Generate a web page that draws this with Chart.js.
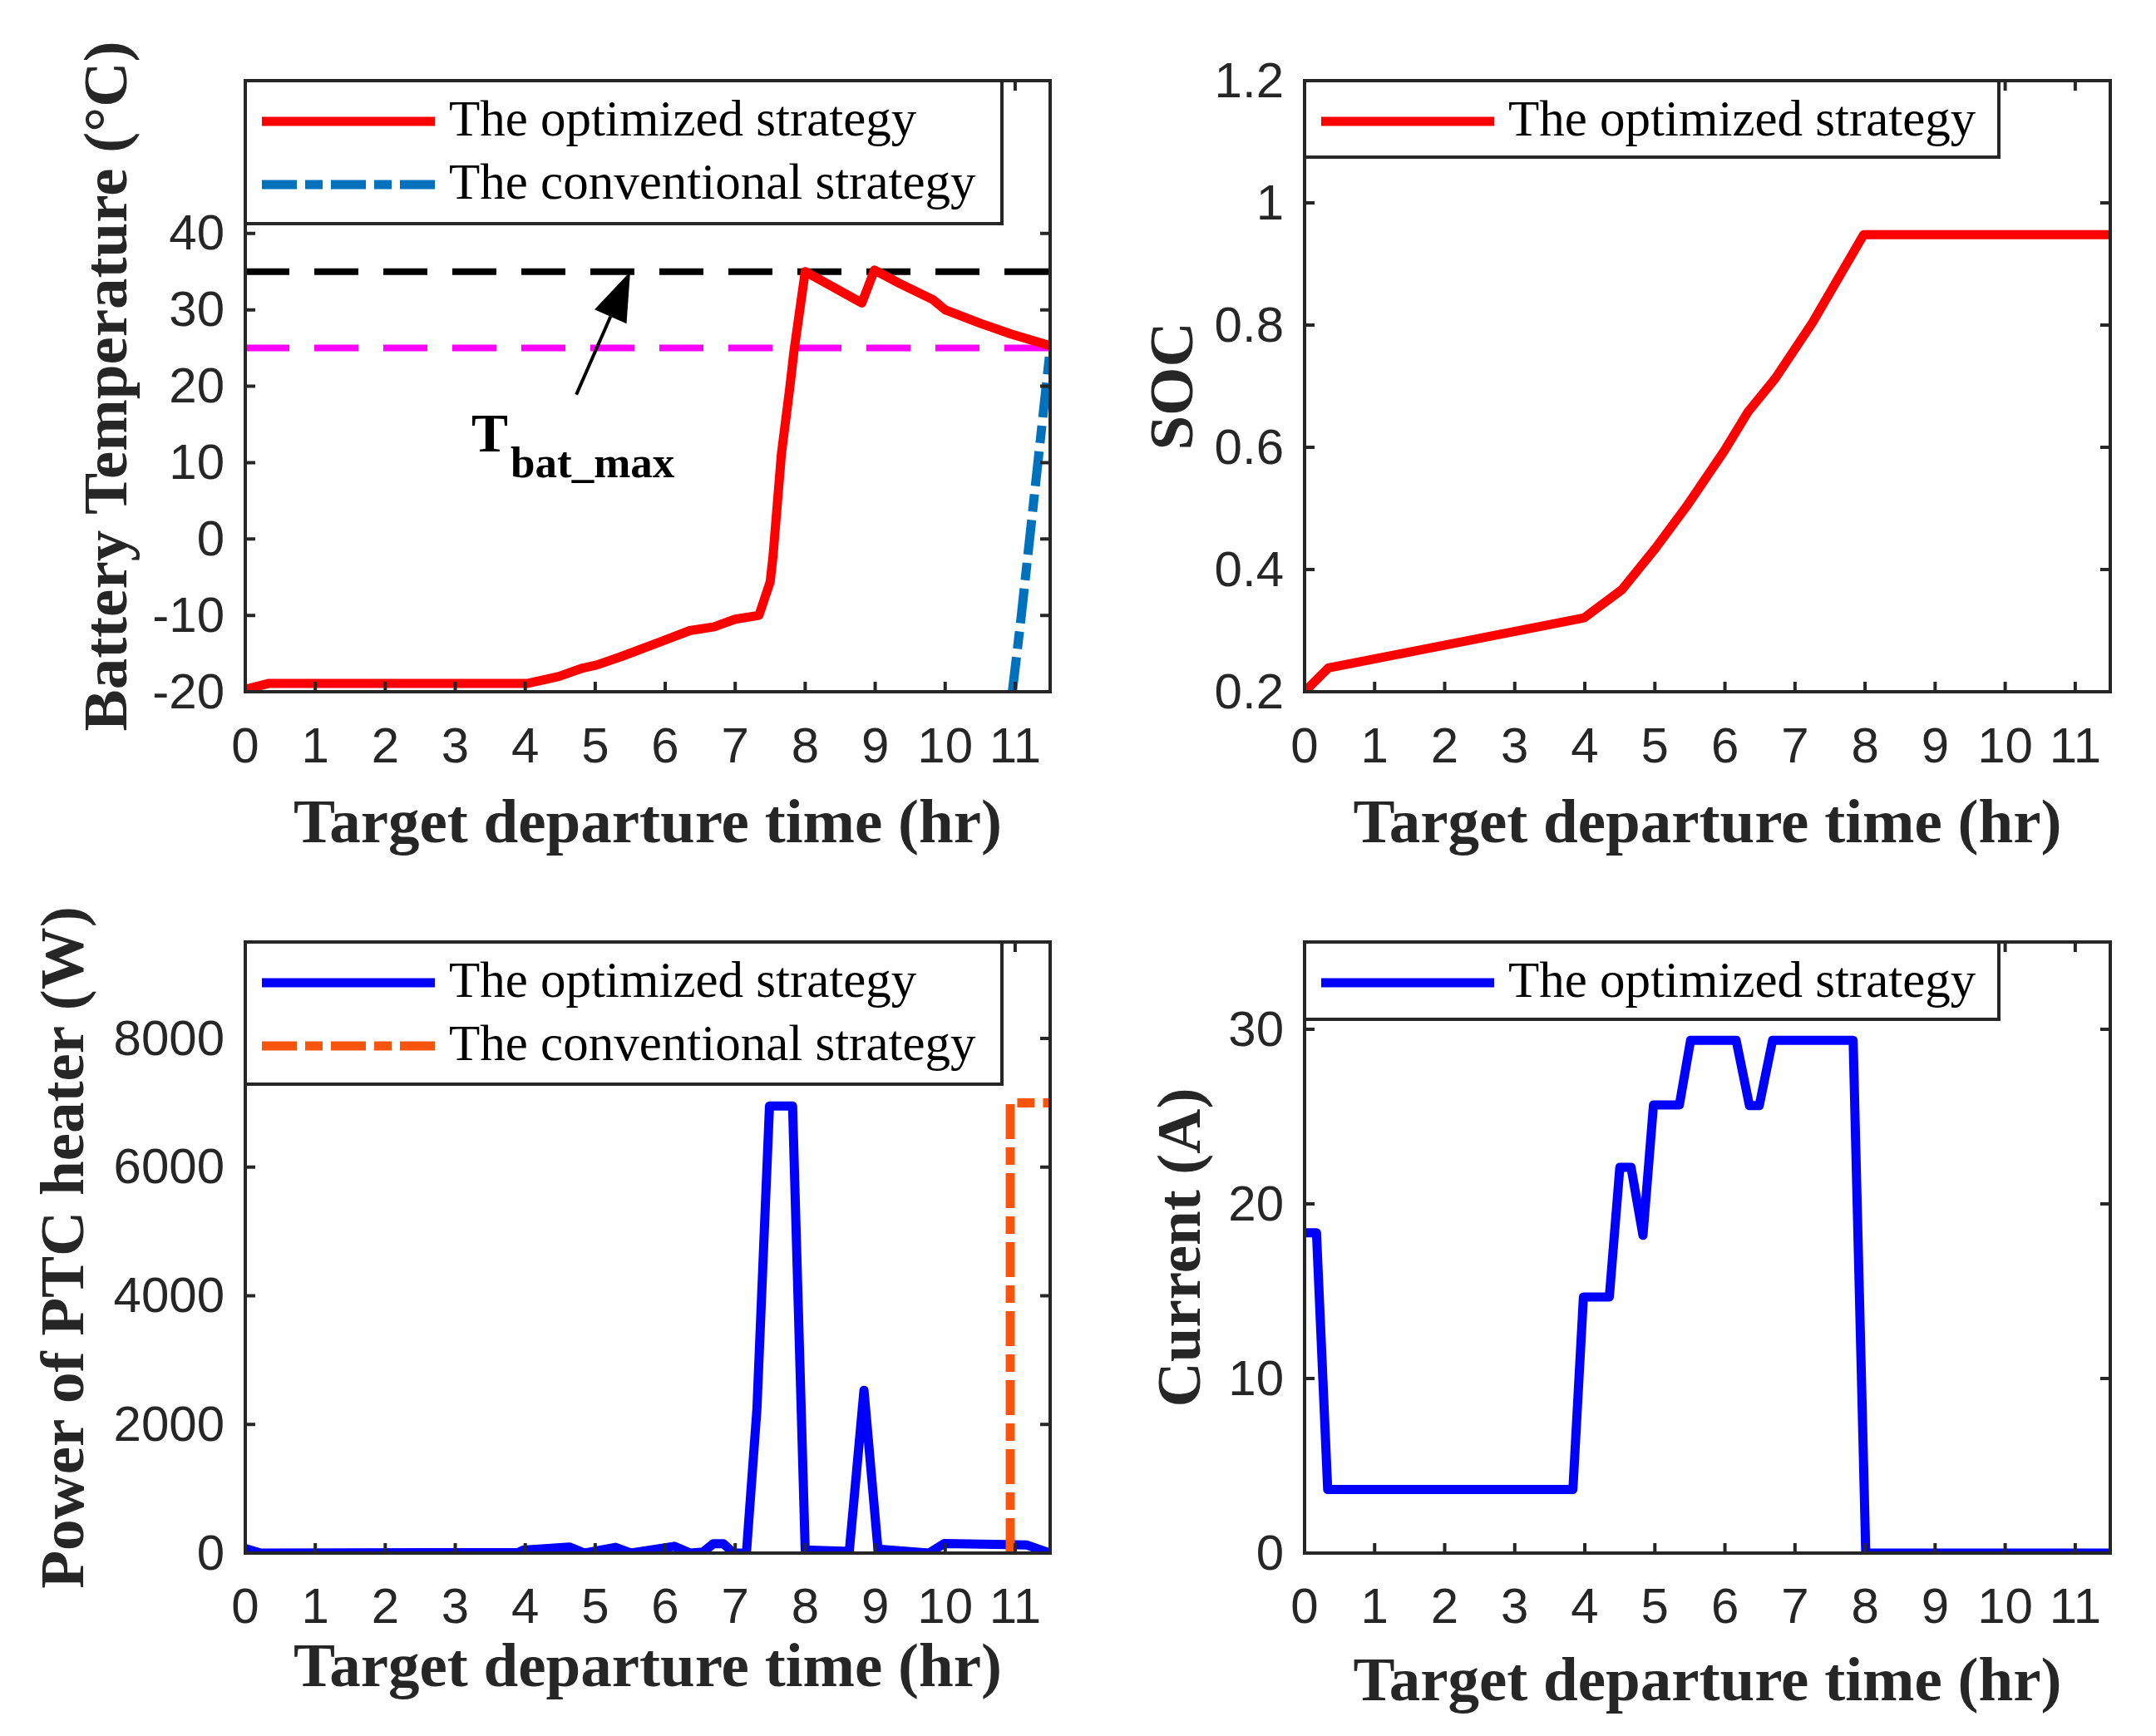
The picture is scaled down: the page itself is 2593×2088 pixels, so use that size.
<!DOCTYPE html>
<html>
<head>
<meta charset="utf-8">
<script src="https://cdn.jsdelivr.net/npm/chart.js@4.4.1/dist/chart.umd.min.js"></script>
<style>
  html, body { margin: 0; padding: 0; background: #fff; }
  #fig { position: relative; width: 2593px; height: 2088px; background: #fff; }
  canvas { position: absolute; }
</style>
</head>
<body>
<div id="fig">
  <canvas id="temp" width="1296" height="1044" style="left:0px;top:0px"></canvas>
  <canvas id="soc" width="1297" height="1044" style="left:1296px;top:0px"></canvas>
  <canvas id="ptc" width="1296" height="1044" style="left:0px;top:1044px"></canvas>
  <canvas id="cur" width="1297" height="1044" style="left:1296px;top:1044px"></canvas>
</div>
<script>
// tick labels
let xTicks = [0, 1, 2, 3, 4, 5, 6, 7, 8, 9, 10, 11]
let tempTicks = [-20, -10, 0, 10, 20, 30, 40]
let socTicks = [0.2, 0.4, 0.6, 0.8, 1, 1.2]
let ptcTicks = [0, 2000, 4000, 6000, 8000]
let curTicks = [0, 10, 20, 30]

// battery temperature (C)
let tempOptT = [0, 0.34, 4.04, 4.48, 4.82, 5.02, 5.37, 5.95, 6.35, 6.7, 7.0, 7.34, 7.5, 7.54, 7.66, 7.78, 7.84, 8.0, 8.81, 8.99, 9.36, 9.83, 10.0, 10.51, 10.95, 11.5]
let tempOptV = [-19.7, -18.9, -18.9, -18.0, -16.9, -16.5, -15.4, -13.4, -12.0, -11.5, -10.5, -10.0, -5.6, -2.3, 11.1, 19.8, 24.6, 35.0, 30.9, 35.2, 33.4, 31.3, 30.0, 28.2, 26.8, 25.3]
let tempConvT = [10.96, 11.08, 11.5]
let tempConvV = [-20, -10.7, 24.8]
let tBatMax = 35
let tTarget = 25

// SOC
let socT = [0, 0.34, 3.99, 4.53, 5.01, 5.45, 5.99, 6.33, 6.72, 7.25, 7.98, 11.5]
let socV = [0.2, 0.239, 0.321, 0.367, 0.435, 0.503, 0.594, 0.658, 0.713, 0.804, 0.948, 0.948]

// PTC heater power (W)
let ptcOptT = [0, 0.22, 3.9, 3.97, 4.63, 4.85, 5.29, 5.51, 6.13, 6.36, 6.54, 6.69, 6.83, 6.98, 7.16, 7.31, 7.49, 7.82, 8.0, 8.63, 8.84, 9.04, 9.77, 9.99, 10.87, 11.17, 11.5]
let ptcOptV = [70, 0, 10, 45, 95, 0, 90, 0, 105, 0, 15, 147, 147, 0, 0, 2230, 6950, 6950, 50, 25, 2530, 60, 0, 150, 131, 125, 0]
let ptcConvT = [10.93, 10.93, 11.5]
let ptcConvV = [0, 7000, 7000]

// battery current (A)
let curT = [0, 0.17, 0.33, 3.83, 3.98, 4.35, 4.5, 4.66, 4.83, 4.98, 5.35, 5.51, 6.16, 6.35, 6.49, 6.68, 7.83, 8.01, 11.5]
let curV = [18.35, 18.35, 3.64, 3.64, 14.67, 14.67, 22.1, 22.1, 18.2, 25.67, 25.67, 29.37, 29.37, 25.63, 25.63, 29.37, 29.37, 0, 0]

// annotation of the upper temperature limit
let arrowFrom = [4.73, 18.9]
let arrowTo = [5.5, 35]

const axisColor = '#262626'
const serif = '"Liberation Serif", "Times New Roman", serif'
const sans = '"Liberation Sans", Arial, sans-serif'
const dashDot = [42, 10, 21, 10]

function pts(xs, ys) {
  return xs.map((v, i) => ({ x: v, y: ys[i] }))
}

function series(label, xs, ys, color, extra) {
  return Object.assign({
    label: label,
    data: pts(xs, ys),
    borderColor: color,
    backgroundColor: color,
    borderWidth: 11,
    pointRadius: 0,
    tension: 0,
    borderJoinStyle: 'round',
    borderCapStyle: 'butt',
    fill: false
  }, extra || {})
}

// frame with inward ticks on all four sides, like a matlab box
const boxFrame = {
  id: 'boxFrame',
  afterDatasetsDraw(chart) {
    const { ctx, chartArea: a } = chart
    const x = chart.scales.x
    const y = chart.scales.y
    const len = 12
    ctx.save()
    ctx.strokeStyle = axisColor
    ctx.lineWidth = 4
    ctx.beginPath()
    x.ticks.forEach(t => {
      const px = x.getPixelForValue(t.value)
      ctx.moveTo(px, a.bottom); ctx.lineTo(px, a.bottom - len)
      ctx.moveTo(px, a.top); ctx.lineTo(px, a.top + len)
    })
    y.ticks.forEach(t => {
      const py = y.getPixelForValue(t.value)
      ctx.moveTo(a.left, py); ctx.lineTo(a.left + len, py)
      ctx.moveTo(a.right, py); ctx.lineTo(a.right - len, py)
    })
    ctx.stroke()
    ctx.strokeRect(a.left, a.top, a.right - a.left, a.bottom - a.top)
    ctx.restore()
  }
}

// legend box in the upper left corner of the plot
const boxLegend = {
  id: 'boxLegend',
  afterDatasetsDraw(chart, args, opts) {
    const { ctx, chartArea: a } = chart
    const items = chart.data.datasets.filter(d => d.label)
    ctx.save()
    ctx.fillStyle = '#fff'
    ctx.fillRect(a.left, a.top, opts.width, opts.height)
    ctx.strokeStyle = axisColor
    ctx.lineWidth = 4
    ctx.strokeRect(a.left, a.top, opts.width, opts.height)
    items.forEach((d, i) => {
      const yy = a.top + 49 + i * 76
      ctx.beginPath()
      ctx.setLineDash(d.borderDash || [])
      ctx.lineCap = 'butt'
      ctx.lineWidth = d.borderWidth
      ctx.strokeStyle = d.borderColor
      ctx.moveTo(a.left + 20, yy)
      ctx.lineTo(a.left + 228, yy)
      ctx.stroke()
      ctx.setLineDash([])
      ctx.fillStyle = '#000'
      ctx.font = '61px ' + serif
      ctx.textBaseline = 'middle'
      ctx.textAlign = 'left'
      ctx.fillText(d.label, a.left + 245, yy + 1)
    })
    ctx.restore()
  }
}

// arrow and T_bat_max label
const limitNote = {
  id: 'limitNote',
  afterDatasetsDraw(chart) {
    const { ctx } = chart
    const x = chart.scales.x
    const y = chart.scales.y
    const x0 = x.getPixelForValue(arrowFrom[0]), y0 = y.getPixelForValue(arrowFrom[1])
    const x1 = x.getPixelForValue(arrowTo[0]), y1 = y.getPixelForValue(arrowTo[1])
    const ang = Math.atan2(y1 - y0, x1 - x0)
    const hl = 59, hw = 21
    const bx = x1 - hl * Math.cos(ang), by = y1 - hl * Math.sin(ang)
    ctx.save()
    ctx.strokeStyle = '#000'
    ctx.fillStyle = '#000'
    ctx.lineWidth = 4
    ctx.beginPath()
    ctx.moveTo(x0, y0)
    ctx.lineTo(bx, by)
    ctx.stroke()
    ctx.beginPath()
    ctx.moveTo(x1, y1)
    ctx.lineTo(bx + hw * Math.sin(ang), by - hw * Math.cos(ang))
    ctx.lineTo(bx - hw * Math.sin(ang), by + hw * Math.cos(ang))
    ctx.closePath()
    ctx.fill()

    ctx.textBaseline = 'alphabetic'
    ctx.textAlign = 'left'
    ctx.font = 'bold 66px ' + serif
    ctx.fillText('T', x.getPixelForValue(3.23), y.getPixelForValue(11.5))
    ctx.font = 'bold 53px ' + serif
    ctx.fillText('bat_max', x.getPixelForValue(3.79), y.getPixelForValue(8.1))
    ctx.restore()
  }
}

function makeChart(id, p) {
  return new Chart(document.getElementById(id), {
    type: 'line',
    data: { datasets: p.datasets },
    options: {
      responsive: false,
      animation: false,
      events: [],
      layout: { padding: { left: 0, top: p.top, right: p.right, bottom: 0 } },
      plugins: {
        legend: { display: false },
        tooltip: { enabled: false },
        boxLegend: { width: p.legendW, height: p.legendH }
      },
      scales: {
        x: {
          type: 'linear',
          min: 0,
          max: 11.5,
          grid: { display: false, drawTicks: false },
          border: { display: false },
          afterBuildTicks: s => { s.ticks = xTicks.map(v => ({ value: v })) },
          afterFit: s => { s.height = p.xHeight },
          ticks: {
            autoSkip: false, maxRotation: 0, padding: p.xTickPad,
            color: axisColor, font: { family: sans, size: 60 },
            callback: v => String(v)
          },
          title: {
            display: true, text: 'Target departure time (hr)', color: axisColor,
            font: { family: serif, size: 75, weight: 'bold' },
            padding: { top: 0, bottom: p.xTitlePad }
          }
        },
        y: {
          type: 'linear',
          min: p.ymin,
          max: p.ymax,
          grid: { display: false, drawTicks: false },
          border: { display: false },
          afterBuildTicks: s => { s.ticks = p.yTicks.map(v => ({ value: v })) },
          afterFit: s => { s.width = p.yWidth },
          ticks: {
            padding: 25, labelOffset: 3, color: axisColor, font: { family: sans, size: 60 },
            callback: v => String(v)
          },
          title: {
            display: true, text: p.yTitle, color: axisColor,
            font: { family: serif, size: 75, weight: 'bold' },
            padding: { top: p.yTitlePad, bottom: 0 }
          }
        }
      }
    },
    plugins: p.extra ? [p.extra, boxFrame, boxLegend] : [boxFrame, boxLegend]
  })
}

window.onload = function () {
  makeChart('temp', {
    top: 97, right: 33, yWidth: 295, xHeight: 212, yTitlePad: 88, xTitlePad: 5, xTickPad: 32,
    ymin: -20, ymax: 60, yTicks: tempTicks, yTitle: 'Battery Temperature (\u00B0C)',
    legendW: 910, legendH: 172,
    extra: limitNote,
    datasets: [
      series('The optimized strategy', tempOptT, tempOptV, '#FF0000', { order: 0 }),
      series('The conventional strategy', tempConvT, tempConvV, '#0072BD', { order: 1, borderDash: dashDot }),
      series('', [0, 11.5], [tBatMax, tBatMax], '#000000', { order: 2, borderWidth: 8, borderDash: [53, 30] }),
      series('', [0, 11.5], [tTarget, tTarget], '#FF00FF', { order: 2, borderWidth: 8, borderDash: [53, 30] })
    ]
  })

  makeChart('soc', {
    top: 97, right: 55, yWidth: 273, xHeight: 212, yTitlePad: 74, xTitlePad: 5, xTickPad: 32,
    ymin: 0.2, ymax: 1.2, yTicks: socTicks, yTitle: 'SOC',
    legendW: 835, legendH: 92,
    datasets: [
      series('The optimized strategy', socT, socV, '#FF0000')
    ]
  })

  makeChart('ptc', {
    top: 89, right: 33, yWidth: 295, xHeight: 220, yTitlePad: 36, xTitlePad: 34, xTickPad: 31,
    ymin: 0, ymax: 9500, yTicks: ptcTicks, yTitle: 'Power of PTC heater (W)',
    legendW: 910, legendH: 171,
    datasets: [
      series('The optimized strategy', ptcOptT, ptcOptV, '#0000FF', { order: 1 }),
      series('The conventional strategy', ptcConvT, ptcConvV, '#F8540E', { order: 0, borderDash: dashDot, borderJoinStyle: 'miter' })
    ]
  })

  makeChart('cur', {
    top: 89, right: 55, yWidth: 273, xHeight: 220, yTitlePad: 83, xTitlePad: 17, xTickPad: 31,
    ymin: 0, ymax: 35, yTicks: curTicks, yTitle: 'Current (A)',
    legendW: 835, legendH: 93,
    datasets: [
      series('The optimized strategy', curT, curV, '#0000FF')
    ]
  })
}
</script>
</body>
</html>
